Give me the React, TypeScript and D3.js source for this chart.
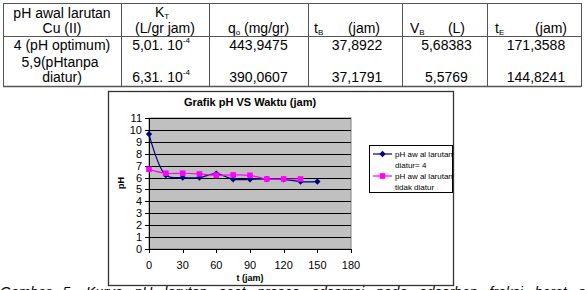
import * as d3 from "d3";

// table contents
const headerTop = ["pH awal larutan", "K", "", "", "", ""];
const row1 = ["4 (pH optimum)", "5,01. 10", "443,9475", "37,8922", "5,68383", "171,3588"];
const row2 = ["diatur)", "6,31. 10", "390,0607", "37,1791", "5,5769", "144,8241"];

// chart data
const times = [0, 15, 30, 45, 60, 75, 90, 105, 120, 135, 150];
const phDiatur = [9.65, 6.2, 6.0, 6.0, 6.33, 5.85, 5.85, 5.88, 5.85, 5.66, 5.66];
const phTidakDiatur = [6.69, 6.36, 6.36, 6.3, 6.19, 6.22, 6.19, 5.88, 5.88, 5.88];
const xTicks = [0, 30, 60, 90, 120, 150, 180];
const yTicks = [0, 1, 2, 3, 4, 5, 6, 7, 8, 9, 10, 11];

const FONT = "'Liberation Sans', Arial, sans-serif";

export default function App() {
  const colX = [3, 121, 209, 308, 402, 487, 581];
  const mid = (i: number) => (colX[i] + colX[i + 1]) / 2;

  const x = d3.scaleLinear().domain([0, 180]).range([149, 351]);
  const y = d3.scaleLinear().domain([0, 11]).range([249, 118]);

  const line = d3
    .line<number>()
    .x((_, i) => x(times[i]))
    .y((d) => y(d))
    .curve(d3.curveCatmullRom.alpha(0.5));

  const diamond = (cx: number, cy: number) =>
    `M${cx},${cy - 3.2}L${cx + 3.2},${cy}L${cx},${cy + 3.2}L${cx - 3.2},${cy}Z`;

  return (
    <svg
      width={585}
      height={290}
      style={{ position: "absolute", left: 0, top: 0, background: "#fff" }}
      fontFamily={FONT}
    >
      {/* tabel */}
      <g fontSize={14} fill="#000" textAnchor="middle">
        <g stroke="#555" strokeWidth={1} fill="none">
          <line x1={colX[0]} x2={colX[6]} y1={3.5} y2={3.5} />
          <line x1={colX[0]} x2={colX[6]} y1={36.5} y2={36.5} />
          <line x1={colX[0]} x2={colX[6]} y1={86.5} y2={86.5} strokeWidth={1.5} />
          {colX.map((cx) => (
            <line key={cx} x1={cx + 0.5} x2={cx + 0.5} y1={3} y2={87} />
          ))}
        </g>
        <text x={mid(0)} y={18}>{headerTop[0]}</text>
        <text x={mid(0)} y={33}>Cu (II)</text>
        <text x={mid(1) - 3} y={17}>
          {headerTop[1]}
          <tspan fontSize={8} dy={2}>T</tspan>
        </text>
        <text x={mid(1)} y={33}>(L/gr jam)</text>
        <text x={mid(2)} y={33}>
          q<tspan fontSize={8} dy={2}>o</tspan>
          <tspan dy={-2}>{"  (mg/gr)"}</tspan>
        </text>
        <text x={314} y={33} textAnchor="start">
          t<tspan fontSize={8} dy={2}>B</tspan>
        </text>
        <text x={380} y={33} textAnchor="end">(jam)</text>
        <text x={410} y={33} textAnchor="start">
          V<tspan fontSize={8} dy={2}>B</tspan>
        </text>
        <text x={465} y={33} textAnchor="end">(L)</text>
        <text x={495} y={33} textAnchor="start">
          t<tspan fontSize={8} dy={2}>E</tspan>
        </text>
        <text x={567} y={33} textAnchor="end">(jam)</text>

        <text x={mid(0)} y={50}>{row1[0]}</text>
        <text x={mid(0) - 2} y={67}>5,9(pHtanpa</text>
        <text x={mid(0)} y={82}>{row2[0]}</text>
        {[row1, row2].map((r, ri) => (
          <g key={ri}>
            <text x={mid(1) - 4} y={ri === 0 ? 50 : 82}>
              {r[1]}
              <tspan fontSize={8} dy={-7}>-4</tspan>
            </text>
            {r.slice(2).map((v, j) => (
              <text key={j} x={mid(j + 2) + (j === 0 ? 0 : 2)} y={ri === 0 ? 50 : 82}>
                {v}
              </text>
            ))}
          </g>
        ))}
      </g>

      {/* bingkai grafik */}
      <rect x={108.5} y={91.5} width={345} height={194} fill="#fff" stroke="#333" strokeWidth={1.3} />

      {/* area plot */}
      <rect x={149} y={118} width={202} height={131} fill="#C0C0C0" stroke="#808080" strokeWidth={1} />
      {yTicks.map((t) => (
        <line key={t} x1={149} x2={351} y1={Math.round(y(t)) + 0.5} y2={Math.round(y(t)) + 0.5} stroke="#000" strokeWidth={1} />
      ))}
      <line x1={149.5} x2={149.5} y1={118} y2={249} stroke="#000" />
      <line x1={149} x2={351} y1={249.5} y2={249.5} stroke="#000" />
      {yTicks.map((t) => (
        <g key={t}>
          <line x1={145} x2={149} y1={Math.round(y(t)) + 0.5} y2={Math.round(y(t)) + 0.5} stroke="#000" />
          <text x={142} y={y(t) + 4} fontSize={11} textAnchor="end">{t}</text>
        </g>
      ))}
      {xTicks.map((t) => (
        <g key={t}>
          <line x1={Math.round(x(t)) + 0.5} x2={Math.round(x(t)) + 0.5} y1={249} y2={253} stroke="#000" />
          <text x={x(t)} y={269} fontSize={11} textAnchor="middle">{t}</text>
        </g>
      ))}

      <text x={250} y={106} fontSize={11} fontWeight="bold" textAnchor="middle">
        Grafik pH VS Waktu (jam)
      </text>
      <text x={250} y={281} fontSize={9} fontWeight="bold" textAnchor="middle">t (jam)</text>
      <text transform="translate(124,183) rotate(-90)" fontSize={9} fontWeight="bold" textAnchor="middle">pH</text>

      {/* seri */}
      <path d={line(phDiatur) || ""} fill="none" stroke="#000080" strokeWidth={1.2} />
      {phDiatur.map((v, i) => (
        <path key={i} d={diamond(x(times[i]), y(v))} fill="#000080" />
      ))}
      <path d={line(phTidakDiatur) || ""} fill="none" stroke="#FF00FF" strokeWidth={1.2} />
      {phTidakDiatur.map((v, i) => (
        <rect key={i} x={x(times[i]) - 2.8} y={y(v) - 2.8} width={5.6} height={5.6} fill="#FF00FF" />
      ))}

      {/* legenda */}
      <rect x={369.5} y={145.5} width={83} height={47} fill="#fff" stroke="#000" strokeWidth={1} />
      <line x1={373} x2={392} y1={154} y2={154} stroke="#000080" strokeWidth={1.2} />
      <path d={diamond(382.5, 154)} fill="#000080" />
      <text x={395} y={157} fontSize={8}>pH aw al larutan</text>
      <text x={395} y={168} fontSize={8}>diatur= 4</text>
      <line x1={373} x2={392} y1={176} y2={176} stroke="#FF00FF" strokeWidth={1.2} />
      <rect x={379.7} y={173.2} width={5.6} height={5.6} fill="#FF00FF" />
      <text x={395} y={179} fontSize={8}>pH aw al larutan</text>
      <text x={395} y={190} fontSize={8}>tidak diatur</text>

      {/* keterangan gambar (terpotong di tepi bawah seperti aslinya) */}
      <text x={0} y={297} fontSize={14} fontStyle="italic" wordSpacing={8}>
        Gambar 5. Kurva pH larutan saat proses adsorpsi pada adsorben fraksi berat serbuk
      </text>
    </svg>
  );
}
